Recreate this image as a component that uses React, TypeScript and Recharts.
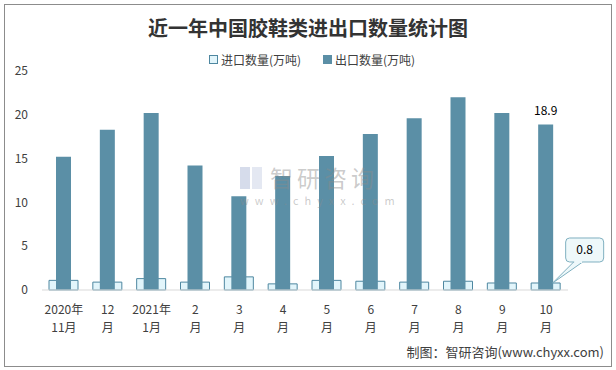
import { Bar, BarChart, XAxis, YAxis } from 'recharts';

const categories = [
	'2020年11月', '2020年12月', '2021年1月', '2021年2月', '2021年3月', '2021年4月',
	'2021年5月', '2021年6月', '2021年7月', '2021年8月', '2021年9月', '2021年10月',
];
const tickTop = ['2020年', '12', '2021年', '2', '3', '4', '5', '6', '7', '8', '9', '10'];
const tickBottom = ['11月', '月', '1月', '月', '月', '月', '月', '月', '月', '月', '月', '月'];
const importVolume = [1.1, 0.9, 1.3, 0.9, 1.5, 0.7, 1.1, 1.0, 0.9, 1.0, 0.8, 0.8];
const exportVolume = [15.2, 18.3, 20.2, 14.2, 10.7, 13.0, 15.3, 17.8, 19.6, 22.0, 20.2, 18.9];
const yTicks = [0, 5, 10, 15, 20, 25];

const data = categories.map((month, i) => ({
	month,
	importVolume: importVolume[i],
	exportVolume: exportVolume[i],
}));

const FONT = '"Noto Sans CJK SC", "Noto Sans", sans-serif';
const TEXT = '#404040';
const IMPORT_FILL = '#e2f5fb';
const IMPORT_STROKE = '#4e87a0';
const EXPORT_FILL = '#5b8fa6';
const last = categories.length - 1;

const MonthTick = (props: any) => {
	const { x, y, payload } = props;
	const i = payload.index;
	return (
		<text x={x} y={y} textAnchor="middle" fontSize={12} fill={TEXT} fontFamily={FONT}>
			<tspan x={x} dy={24}>{tickTop[i]}</tspan>
			<tspan x={x} dy={18}>{tickBottom[i]}</tspan>
		</text>
	);
};

// value on top of the last export bar
const exportLabel = (props: any) => {
	const { x, y, width, index } = props;
	if (index !== last) return null;
	return (
		<text x={x + width / 2} y={y - 9} textAnchor="middle" fontSize={12} fill="#000" fontFamily={FONT}>
			{exportVolume[index]}
		</text>
	);
};

// callout box for the last import value
const importCallout = (props: any) => {
	const { x, y, width, index } = props;
	if (index !== last) return null;
	const cx = x + width / 2;
	const bx = cx + 20;
	const by = y - 45;
	return (
		<g>
			<path
				d={`M${bx + 8},${by + 24} L${cx + 7},${y} L${bx + 17},${by + 24}`}
				fill="#eef8fa"
				stroke="#7fb0c0"
			/>
			<rect x={bx} y={by} width={38} height={24} rx={4} fill="#eef8fa" stroke="#7fb0c0" />
			<rect x={bx + 8.5} y={by + 22} width={8} height={3} fill="#eef8fa" />
			<text x={bx + 19} y={by + 16} textAnchor="middle" fontSize={12} fill="#000" fontFamily={FONT}>
				{importVolume[index]}
			</text>
		</g>
	);
};

export default function App() {
	return (
		<div style={{ position: 'absolute', left: 0, top: 0, width: 616, height: 370, background: '#fff' }}>
			<BarChart width={616} height={370} data={data} margin={{ top: 71, right: 48, bottom: 30, left: 0 }}>
				<XAxis
					xAxisId="a"
					dataKey="month"
					axisLine={{ stroke: '#d9d9d9' }}
					tickLine={false}
					tickSize={0}
					tickMargin={0}
					height={50}
					interval={0}
					tick={<MonthTick />}
				/>
				<XAxis xAxisId="b" dataKey="month" hide />
				<YAxis
					domain={[0, 25]}
					ticks={yTicks}
					axisLine={false}
					tickLine={false}
					tickSize={0}
					tickMargin={14}
					width={42}
					tick={{ fontSize: 12, fill: TEXT, fontFamily: FONT }}
				/>
				<Bar
					xAxisId="a"
					dataKey="importVolume"
					name="进口数量(万吨)"
					barSize={29}
					fill={IMPORT_FILL}
					stroke={IMPORT_STROKE}
					isAnimationActive={false}
					label={importCallout}
				/>
				<Bar
					xAxisId="b"
					dataKey="exportVolume"
					name="出口数量(万吨)"
					barSize={15}
					fill={EXPORT_FILL}
					isAnimationActive={false}
					label={exportLabel}
				/>
			</BarChart>
			<div
				style={{
					position: 'absolute',
					left: 0,
					top: 13,
					width: 616,
					textAlign: 'center',
					fontSize: 20,
					fontWeight: 'bold',
					fontFamily: FONT,
					color: '#333',
				}}
			>
				近一年中国胶鞋类进出口数量统计图
			</div>
			{/* legend */}
			<div
				style={{
					position: 'absolute',
					left: 0,
					top: 51,
					width: 616,
					display: 'flex',
					justifyContent: 'center',
					alignItems: 'center',
					gap: 22,
					fontSize: 12,
					lineHeight: '17px',
					color: TEXT,
					fontFamily: FONT,
					paddingLeft: 8,
					boxSizing: 'border-box',
				}}
			>
				<span style={{ display: 'flex', alignItems: 'center' }}>
					<span style={{ width: 7, height: 7, background: IMPORT_FILL, border: `1px solid ${IMPORT_STROKE}`, marginRight: 3 }} />
					进口数量(万吨)
				</span>
				<span style={{ display: 'flex', alignItems: 'center' }}>
					<span style={{ width: 9, height: 9, background: EXPORT_FILL, marginRight: 3 }} />
					出口数量(万吨)
				</span>
			</div>
			{/* watermark */}
			<div style={{ position: 'absolute', left: 240, top: 167, width: 10, height: 22, background: 'rgba(120,140,190,0.3)' }} />
			<div style={{ position: 'absolute', left: 252, top: 167, width: 10, height: 22, background: 'rgba(120,140,190,0.2)' }} />
			<div
				style={{
					position: 'absolute',
					left: 270,
					top: 166,
					fontSize: 23,
					lineHeight: '23px',
					fontFamily: FONT,
					color: 'rgba(140,140,140,0.45)',
					letterSpacing: 4,
				}}
			>
				智研咨询
			</div>
			<div
				style={{
					position: 'absolute',
					left: 240,
					top: 195,
					fontSize: 11,
					lineHeight: '11px',
					fontFamily: FONT,
					color: 'rgba(140,140,140,0.45)',
					letterSpacing: 6,
				}}
			>
				www.chyxx.com
			</div>
			<div
				style={{
					position: 'absolute',
					right: 12,
					top: 342,
					fontSize: 13,
					fontFamily: FONT,
					color: TEXT,
				}}
			>
				制图：智研咨询(www.chyxx.com)
			</div>
			<div
				style={{
					position: 'absolute',
					left: 4,
					top: 4,
					width: 606,
					height: 361,
					border: '1px solid #8c8c8c',
					pointerEvents: 'none',
				}}
			/>
		</div>
	);
}
